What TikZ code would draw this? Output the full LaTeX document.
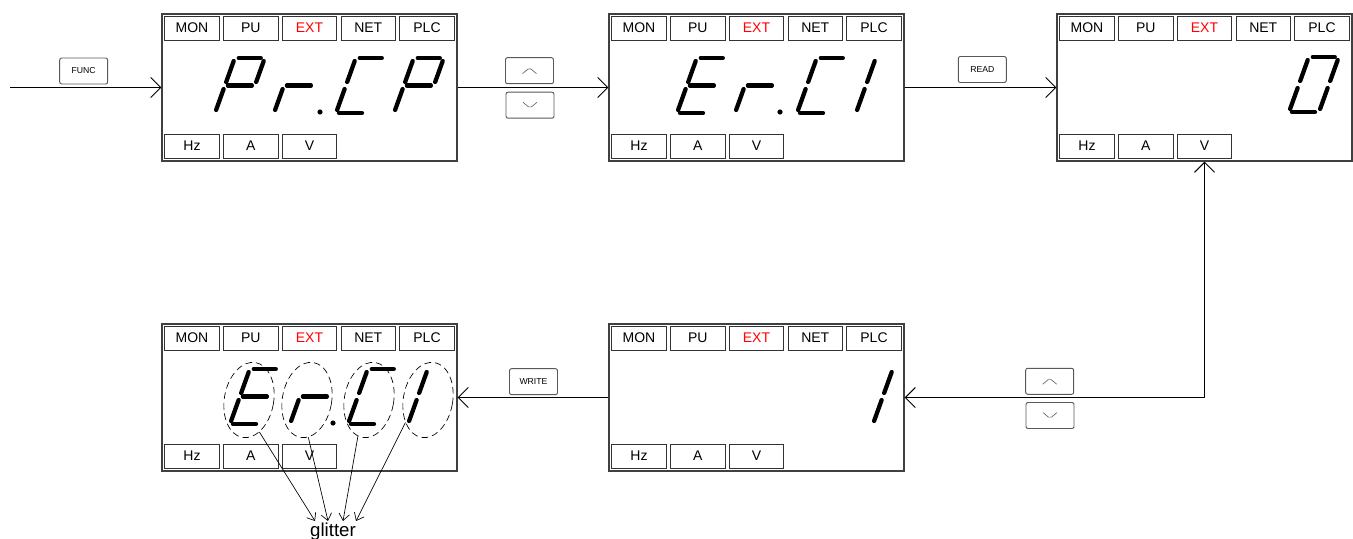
\documentclass[tikz,border=0pt]{standalone}
\usepackage{fontspec}
\setmainfont{Liberation Sans}
\usepackage{tikz}
\usetikzlibrary{positioning,arrows.meta,shapes.geometric}

\def\sega{(4,55) -- (26,55)}
\def\segb{(30,52) -- (30,31)}
\def\segc{(30,24) -- (30,3)}
\def\segd{(3,0) -- (26,0)}
\def\sege{(0,3) -- (0,24)}
\def\segf{(0,31) -- (0,52)}
\def\segg{(3,27.5) -- (27,27.5)}

\newcommand\segdigit[3]{%
  \begin{scope}[shift={(#1,#2)}, x=0.75pt, y=0.75pt, xslant=0.36]
    \foreach \s in {#3} {\expandafter\let\expandafter\segpath\csname seg\s\endcsname
      \draw[segline] \segpath;}
  \end{scope}}

\newcommand\panel[3]{%
  \begin{scope}[shift={(#2,#3)}]
    \node[panelbox] (#1) at (147.5,73.5) {};
    \foreach \lbl/\col [count=\i from 0] in {MON/black,PU/black,EXT/red,NET/black,PLC/black}
      \node[tagbox, text=\col] (#1-\lbl) at (30+58.75*\i,14) {\lbl};
    \foreach \lbl [count=\i from 0] in {Hz,A,V}
      \node[tagbox] (#1-\lbl) at (30+58.75*\i,132) {\lbl};
  \end{scope}}

\begin{document}
\begin{tikzpicture}[x=0.75pt, y=-0.75pt,
  >={Straight Barb[length=7.5pt,width=15pt]},
  panelbox/.style={draw=black!75, line width=1pt, minimum width=221.25pt, minimum height=110.25pt, inner sep=0},
  tagbox/.style={draw=black!80, line width=0.6pt, minimum width=40.9pt, minimum height=18pt, inner sep=0, font=\fontsize{10.5}{12}\selectfont},
  btn/.style={draw=black!65, fill=white, rounded corners=1.5pt, line width=0.7pt, minimum width=36pt, minimum height=19.5pt, inner sep=0, font=\fontsize{6.5}{7}\selectfont},
  chevup/.style={btn, path picture={\draw[black!60, line width=0.5pt] ([shift={(-5.25pt,-2.2pt)}]path picture bounding box.center) -- ++(5.25pt,4.4pt) -- ++(5.25pt,-4.4pt);}},
  chevdown/.style={btn, path picture={\draw[black!60, line width=0.5pt] ([shift={(-5.25pt,2.2pt)}]path picture bounding box.center) -- ++(5.25pt,-4.4pt) -- ++(5.25pt,4.4pt);}},
  segline/.style={line width=3.2pt, line cap=round},
  flow/.style={->, line width=0.7pt},
  blink/.style={draw, ellipse, line width=0.5pt, dash pattern=on 5pt off 3pt, minimum width=37pt, minimum height=57pt, inner sep=0},
  pointer/.style={-{Straight Barb[length=5pt,width=8pt]}, line width=0.5pt}]
\useasboundingbox (0,0) rectangle (1353,539);

\panel{d1}{162}{14}
\panel{d2}{609}{14}
\panel{d3}{1057}{14}
\panel{d4}{162}{324}
\panel{d5}{609}{324}

\segdigit{215}{113}{a,b,f,g,e}
\segdigit{274}{113}{e,g}
\fill (320,112) circle (2.6);
\segdigit{336}{113}{a,f,e,d}
\segdigit{394}{113}{a,b,f,g,e}

\segdigit{677}{113}{a,f,g,e,d}
\segdigit{735}{113}{e,g}
\fill (780,112) circle (2.6);
\segdigit{797}{113}{a,f,e,d}
\segdigit{856}{113}{e,f}

\segdigit{1289}{112}{a,b,c,d,e,f}

\segdigit{230}{424}{a,f,g,e,d}
\segdigit{290}{424}{e,g}
\fill (333,423) circle (2.6);
\segdigit{348}{424}{a,f,e,d}
\segdigit{408}{424}{e,f}

\segdigit{873}{424}{e,f}

\node[btn] (func) at (83.7,71) {FUNC};
\node[chevup] (up1) at (529.5,70.7) {};
\node[chevdown] (dn1) at (530,105.2) {};
\node[btn] (read) at (982.3,69.5) {READ};
\node[chevup] (up2) at (1049.7,381.3) {};
\node[chevdown] (dn2) at (1050,415.5) {};
\node[btn] (write) at (533.5,381.7) {WRITE};

\coordinate (in) at (10,87.5);
\draw[flow] (in) -- (d1.west);
\draw[flow] (d1.east) -- (d2.west);
\draw[flow] (d2.east) -- (d3.west);
\draw[flow, <->] (d5.east) -| (d3.south);
\draw[flow] (d5.west) -- (d4.east);

\node[blink, rotate=-10] (g1) at (249,400) {};
\node[blink, rotate=-10] (g2) at (307,400) {};
\node[blink, rotate=-10] (g3) at (369,400) {};
\node[blink, rotate=-10] (g4) at (428,400) {};
\node[anchor=north, inner sep=1pt, font=\fontsize{14}{16}\selectfont] (glitter) at (333,521) {glitter};
\draw[pointer] (g1.-62) -- ([xshift=-13.5pt]glitter.north);
\draw[pointer] (g2.-78) -- ([xshift=-3.75pt]glitter.north);
\draw[pointer] (g3.-97) -- ([xshift=7.5pt]glitter.north);
\draw[pointer] (g4.-125) -- ([xshift=17.25pt]glitter.north);
\end{tikzpicture}
\end{document}
